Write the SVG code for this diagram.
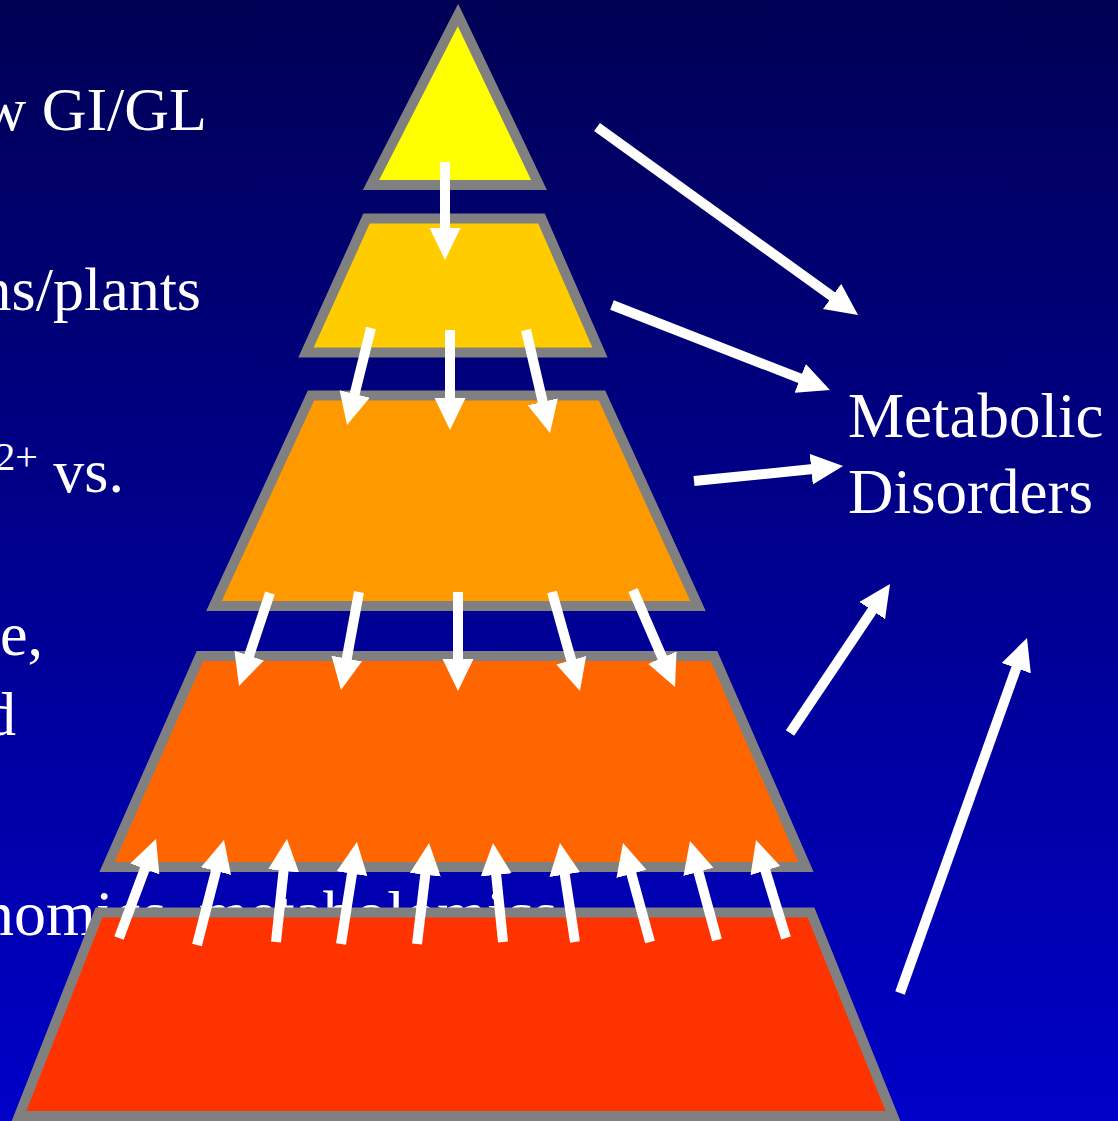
<svg xmlns="http://www.w3.org/2000/svg" width="1118" height="1121" viewBox="0 0 1118 1121">
<defs>
<linearGradient id="bg" x1="0" y1="0" x2="0" y2="1">
<stop offset="0" stop-color="#000055"/>
<stop offset="1" stop-color="#0000C8"/>
</linearGradient>
<marker id="ah" markerUnits="userSpaceOnUse" markerWidth="34" markerHeight="32" viewBox="0 -16 34 32" refX="2" refY="0" orient="auto">
<path d="M0,-15.5 L32,0 L0,15.5 z" fill="#ffffff"/>
</marker>
</defs>
<style>
.t{font-family:"Liberation Serif","Times New Roman",serif;fill:#ffffff;font-size:62px}
.lvl{stroke:#808080;stroke-width:10;stroke-linejoin:miter}
.ar{stroke:#ffffff;stroke-width:10;fill:none;marker-end:url(#ah)}
</style>
<rect x="0" y="0" width="1118" height="1121" fill="url(#bg)"/>
<g id="left-labels">
<text class="t" x="207" y="130" text-anchor="end">w GI/GL</text>
<text class="t" x="201" y="310" text-anchor="end">ns/plants</text>
<text class="t" x="124" y="492" text-anchor="end"><tspan font-size="40" dy="-22">2+</tspan><tspan dy="22"> vs.</tspan></text>
<text class="t" x="43" y="655" text-anchor="end">e,</text>
<text class="t" x="16" y="735" text-anchor="end">d</text>
<text class="t" x="-18" y="935" style="font-size:64px">nomics, metabolomics</text>
</g>
<g id="level1"><polygon class="lvl" fill="#FFFF00" points="458,15 371,185 539,185"/></g>
<g id="level2"><polygon class="lvl" fill="#FFCC00" points="366.5,218.5 541.5,218.5 600,352.5 306,352.5"/></g>
<g id="level3"><polygon class="lvl" fill="#FF9900" points="311,395.5 602,395.5 698,606 214,606"/></g>
<g id="level4"><polygon class="lvl" fill="#FF6600" points="200,656 714,656 806,867 107,867"/></g>
<g id="level5"><polygon class="lvl" fill="#FF3300" points="99,912.5 811,912.5 893,1116 19,1116"/></g>
<g id="metabolic-disorders">
<text class="t" x="848" y="437" style="font-size:63px">Metabolic</text>
<text class="t" x="848" y="513" style="font-size:63px">Disorders</text>
</g>
<g id="connectors">
<line class="ar" x1="445" y1="162" x2="445" y2="230"/>
<line class="ar" x1="371" y1="328" x2="354.2" y2="395.9"/>
<line class="ar" x1="450" y1="330" x2="450" y2="400"/>
<line class="ar" x1="526" y1="330" x2="543.2" y2="403.8"/>
<line class="ar" x1="270" y1="593" x2="248.5" y2="657.5"/>
<line class="ar" x1="359" y1="592" x2="346.4" y2="660.5"/>
<line class="ar" x1="458" y1="592" x2="458" y2="661"/>
<line class="ar" x1="552" y1="592" x2="571.8" y2="662.1"/>
<line class="ar" x1="633" y1="590" x2="663.1" y2="659.5"/>
<line class="ar" x1="119" y1="938" x2="145.5" y2="867.1"/>
<line class="ar" x1="197" y1="945" x2="216.5" y2="869.1"/>
<line class="ar" x1="276" y1="942" x2="283.8" y2="868.8"/>
<line class="ar" x1="341" y1="944" x2="352.3" y2="871.7"/>
<line class="ar" x1="417" y1="944" x2="425.5" y2="872.8"/>
<line class="ar" x1="503" y1="942" x2="496" y2="872.9"/>
<line class="ar" x1="575" y1="942" x2="564.5" y2="872.7"/>
<line class="ar" x1="650" y1="942" x2="630.9" y2="872"/>
<line class="ar" x1="717" y1="940" x2="697.9" y2="870"/>
<line class="ar" x1="786" y1="938" x2="764.8" y2="868.7"/>
<line class="ar" x1="597" y1="127" x2="833.7" y2="297.5"/>
<line class="ar" x1="612" y1="305" x2="802" y2="379.1"/>
<line class="ar" x1="694" y1="481" x2="813.2" y2="469"/>
<line class="ar" x1="790" y1="733" x2="873.3" y2="608.9"/>
<line class="ar" x1="900" y1="993" x2="1016.9" y2="666.3"/>
</g>
</svg>
